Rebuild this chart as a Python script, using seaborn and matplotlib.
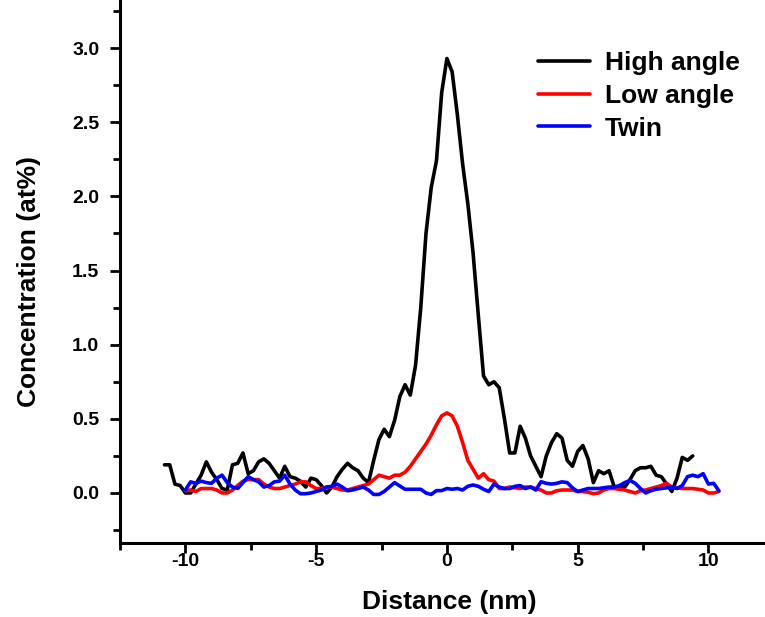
import numpy as np
import pandas as pd
import matplotlib
matplotlib.use("Agg")
import matplotlib.pyplot as plt
import seaborn as sns
from matplotlib.ticker import FormatStrFormatter

sns.set_style("ticks")
plt.rcParams["font.family"] = ["Liberation Sans", "DejaVu Sans"]
plt.rcParams["font.weight"] = "bold"
plt.rcParams["text.color"] = "black"
plt.rcParams["axes.labelcolor"] = "black"
plt.rcParams["axes.edgecolor"] = "black"
plt.rcParams["xtick.color"] = "black"
plt.rcParams["ytick.color"] = "black"

# Sampling step (nm) and first distance for each profile
step = 0.2
high_start = -10.8
low_start = -10.0
twin_start = -10.0

high_angle = [
    0.19, 0.19, 0.06, 0.05, 0.00, 0.00, 0.06, 0.12, 0.21, 0.14,
    0.09, 0.03, 0.02, 0.19, 0.20, 0.27, 0.13, 0.15, 0.21, 0.23,
    0.20, 0.15, 0.10, 0.18, 0.11, 0.10, 0.08, 0.04, 0.10, 0.09,
    0.05, 0.00, 0.04, 0.11, 0.16, 0.20, 0.17, 0.15, 0.10, 0.07,
    0.22, 0.36, 0.43, 0.38, 0.49, 0.65, 0.73, 0.66, 0.86, 1.25,
    1.75, 2.06, 2.24, 2.70, 2.93, 2.84, 2.55, 2.22, 1.95, 1.62,
    1.20, 0.79, 0.73, 0.75, 0.71, 0.50, 0.27, 0.27, 0.45, 0.37,
    0.25, 0.18, 0.11, 0.25, 0.34, 0.40, 0.37, 0.22, 0.18, 0.28,
    0.32, 0.23, 0.07, 0.15, 0.13, 0.15, 0.04, 0.04, 0.04, 0.09,
    0.15, 0.17, 0.17, 0.18, 0.12, 0.11, 0.06, 0.01, 0.10, 0.24,
    0.22, 0.25,
]

low_angle = [
    0.015, 0.02, 0.01, 0.03, 0.03, 0.03, 0.02, 0.00, 0.00, 0.02,
    0.05, 0.08, 0.09, 0.09, 0.09, 0.06, 0.04, 0.03, 0.03, 0.04,
    0.05, 0.06, 0.075, 0.075, 0.05, 0.03, 0.03, 0.04, 0.04, 0.03,
    0.02, 0.02, 0.03, 0.04, 0.05, 0.06, 0.09, 0.12, 0.11, 0.10,
    0.12, 0.12, 0.14, 0.18, 0.23, 0.28, 0.33, 0.39, 0.46, 0.52,
    0.54, 0.52, 0.45, 0.34, 0.22, 0.16, 0.10, 0.13, 0.09, 0.08,
    0.03, 0.03, 0.04, 0.035, 0.03, 0.04, 0.04, 0.03, 0.02, 0.00,
    0.00, 0.015, 0.02, 0.02, 0.02, 0.01, 0.01, 0.005, -0.005, 0.00,
    0.02, 0.03, 0.03, 0.025, 0.02, 0.01, 0.00, 0.015, 0.02, 0.03,
    0.04, 0.05, 0.065, 0.04, 0.035, 0.03, 0.03, 0.03, 0.025, 0.02,
    0.00, 0.00, 0.01,
]

twin = [
    0.02, 0.075, 0.065, 0.08, 0.07, 0.065, 0.10, 0.12, 0.07, 0.04,
    0.03, 0.07, 0.11, 0.09, 0.075, 0.04, 0.05, 0.075, 0.08, 0.12,
    0.06, 0.02, -0.005, -0.005, 0.00, 0.01, 0.02, 0.04, 0.045, 0.06,
    0.04, 0.015, 0.02, 0.03, 0.04, 0.02, -0.01, -0.01, 0.01, 0.04,
    0.07, 0.047, 0.025, 0.025, 0.025, 0.025, 0.00, -0.01, 0.016, 0.016,
    0.03, 0.025, 0.03, 0.02, 0.045, 0.054, 0.045, 0.025, 0.01, 0.06,
    0.04, 0.03, 0.03, 0.045, 0.05, 0.03, 0.04, 0.02, 0.076, 0.065,
    0.06, 0.065, 0.075, 0.07, 0.035, 0.01, 0.02, 0.03, 0.03, 0.03,
    0.035, 0.04, 0.04, 0.05, 0.07, 0.085, 0.065, 0.03, 0.00, 0.015,
    0.025, 0.03, 0.035, 0.04, 0.03, 0.05, 0.11, 0.12, 0.11, 0.13,
    0.06, 0.065, 0.015,
]

labels = ["High angle", "Low angle", "Twin"]
colors = ["black", "red", "blue"]
x_ticks = [-10, -5, 0, 5, 10]
x_minor = [-12.5, -7.5, -2.5, 2.5, 7.5, 12.5]
y_ticks = [0.0, 0.5, 1.0, 1.5, 2.0, 2.5, 3.0]
y_minor = [-0.25, 0.25, 0.75, 1.25, 1.75, 2.25, 2.75, 3.25]


def profile(start, values, name):
    dist = np.round(start + step * np.arange(len(values)), 2)
    return pd.DataFrame({"Distance": dist, "Concentration": values, "Boundary": name})


df = pd.concat([
    profile(high_start, high_angle, labels[0]),
    profile(low_start, low_angle, labels[1]),
    profile(twin_start, twin, labels[2]),
], ignore_index=True)

fig = plt.figure(figsize=(7.65, 6.17), dpi=100)
ax = fig.add_axes([0.1569, 0.1193, 0.8546, 0.882])

sns.lineplot(data=df, x="Distance", y="Concentration", hue="Boundary",
             hue_order=labels, palette=colors, linewidth=2.6,
             estimator=None, sort=False, ax=ax)

ax.set_xlim(-12.5, 12.5)
ax.set_ylim(-0.34, 3.33)
ax.set_xticks(x_ticks)
ax.set_xticks(x_minor, minor=True)
ax.set_yticks(y_ticks)
ax.set_yticks(y_minor, minor=True)
ax.yaxis.set_major_formatter(FormatStrFormatter("%.1f"))
ax.xaxis.set_major_formatter(FormatStrFormatter("%d"))

ax.tick_params(which="major", direction="out", length=7, width=2, labelsize=14)
ax.tick_params(axis="x", which="major", pad=0)
ax.tick_params(axis="y", which="major", pad=8)
ax.tick_params(which="minor", direction="out", length=5, width=2)
for lab in ax.get_xticklabels() + ax.get_yticklabels():
    lab.set_fontweight("bold")

for side in ["top", "right"]:
    ax.spines[side].set_visible(False)
for side in ["left", "bottom"]:
    ax.spines[side].set_linewidth(2.2)

ax.set_xlabel("Distance (nm)", fontsize=19, fontweight="bold")
ax.set_ylabel("Concentration (at%)", fontsize=19, fontweight="bold")
ax.xaxis.set_label_coords(0.504, -0.086)
ax.yaxis.set_label_coords(-0.121, 0.482)

leg = ax.legend(loc="upper left", bbox_to_anchor=(0.6856, 0.9385),
                bbox_transform=fig.transFigure, frameon=False,
                fontsize=19, handlelength=2.0, handletextpad=0.55,
                labelspacing=0.33, borderpad=0)
for t in leg.get_texts():
    t.set_fontweight("bold")
for line in leg.get_lines():
    line.set_linewidth(2.6)

fig.savefig("out.png", dpi=100)
